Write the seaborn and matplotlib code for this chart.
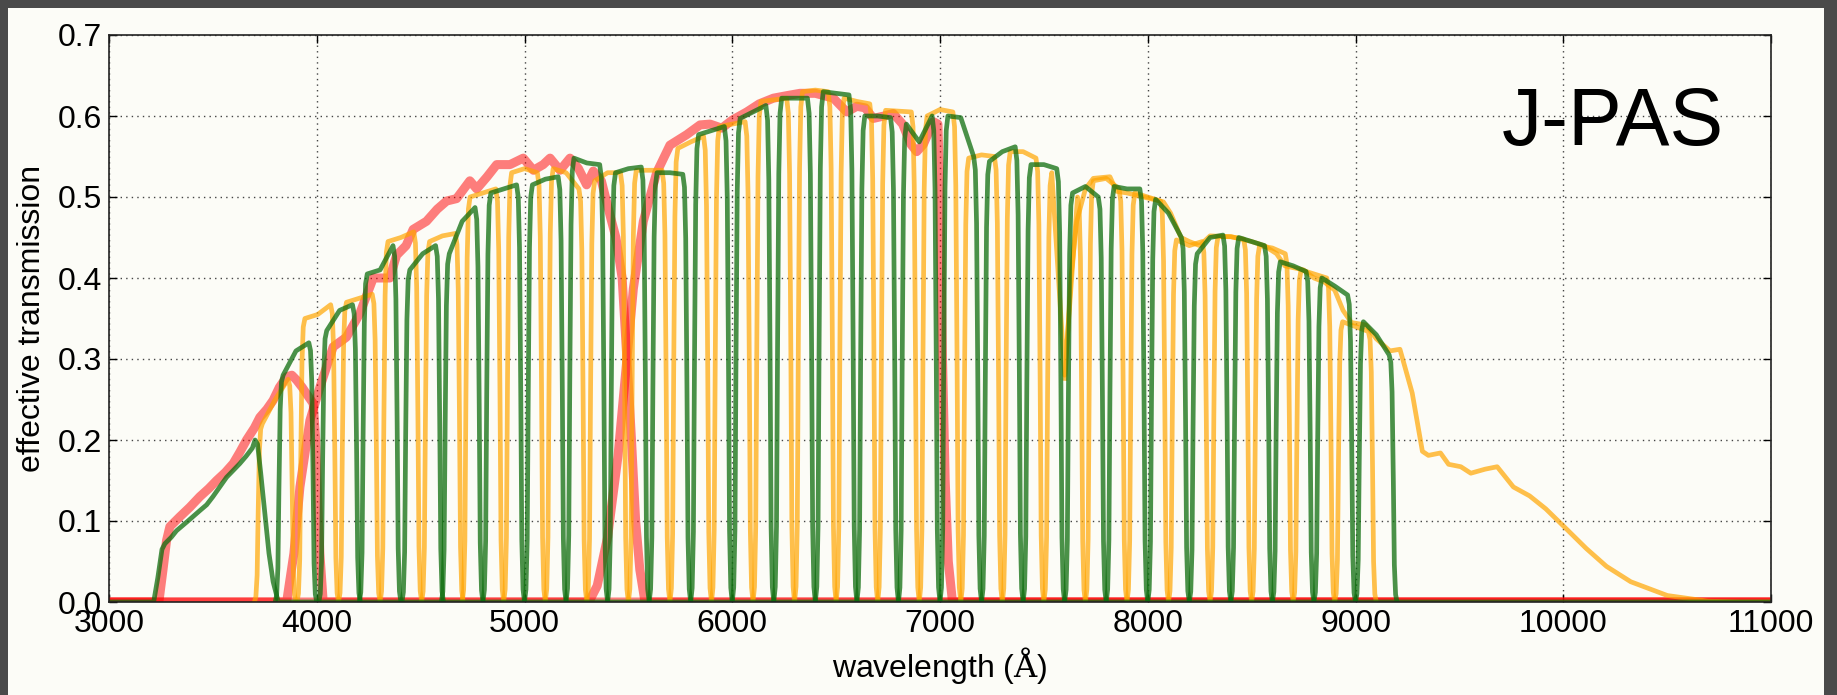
import pandas as pd
import matplotlib
matplotlib.use('Agg')
import matplotlib.pyplot as plt
from matplotlib.patches import Rectangle
import seaborn as sns

# --- narrow-band J-PAS filters (centre wavelength, top transmission left/centre/right) ---
nb_center = [3800, 3900, 4005, 4110, 4205, 4305, 4405, 4510, 4605, 4700,
             4800, 4900, 5000, 5100, 5200, 5300, 5400, 5500, 5600, 5700,
             5800, 5900, 6000, 6100, 6200, 6300, 6400, 6500, 6600, 6700,
             6800, 6900, 7000, 7100, 7200, 7300, 7400, 7500, 7600, 7700,
             7800, 7900, 8000, 8100, 8200, 8300, 8400, 8500, 8600, 8700,
             8800, 8900, 9000, 9100]
nb_top_left = [0.22, 0.28, 0.35, 0.335, 0.37, 0.405, 0.445, 0.41, 0.445, 0.43,
               0.50, 0.505, 0.53, 0.515, 0.535, 0.548, 0.52, 0.53, 0.533, 0.53,
               0.56, 0.577, 0.587, 0.597, 0.618, 0.622, 0.63, 0.63, 0.622, 0.60,
               0.607, 0.59, 0.60, 0.60, 0.548, 0.544, 0.556, 0.54, 0.53, 0.505,
               0.52, 0.513, 0.505, 0.497, 0.447, 0.43, 0.451, 0.45, 0.44, 0.42,
               0.41, 0.40, 0.346, 0.346]
nb_top_mid = [0.25, 0.31, 0.355, 0.36, 0.375, 0.41, 0.45, 0.43, 0.452, 0.47,
              0.505, 0.51, 0.535, 0.522, 0.53, 0.542, 0.53, 0.535, 0.533, 0.53,
              0.568, 0.582, 0.59, 0.605, 0.62, 0.622, 0.632, 0.628, 0.618, 0.60,
              0.606, 0.568, 0.608, 0.598, 0.552, 0.556, 0.556, 0.54, 0.28, 0.513,
              0.523, 0.51, 0.50, 0.48, 0.44, 0.45, 0.451, 0.445, 0.437, 0.415,
              0.405, 0.39, 0.34, 0.33]
nb_top_right = [0.275, 0.32, 0.367, 0.367, 0.38, 0.44, 0.457, 0.44, 0.455, 0.487,
                0.51, 0.515, 0.53, 0.525, 0.51, 0.54, 0.53, 0.537, 0.533, 0.528,
                0.575, 0.587, 0.593, 0.613, 0.622, 0.622, 0.63, 0.626, 0.615, 0.598,
                0.605, 0.60, 0.605, 0.55, 0.55, 0.562, 0.548, 0.535, 0.50, 0.50,
                0.51, 0.51, 0.495, 0.45, 0.445, 0.453, 0.448, 0.44, 0.43, 0.408,
                0.40, 0.379, 0.334, 0.305]
nb_colour = ['orange', 'green'] * 27

# filter edge profile: distance from centre (A) and fraction of top transmission
edge_offset = [100, 93, 87, 82, 76, 70, 62]
edge_frac = [0.0, 0.03, 0.15, 0.5, 0.85, 0.97, 1.0]

# --- broad filters ---
ujpas_wl = [3000, 3215, 3235, 3255, 3269, 3300, 3325, 3380, 3438, 3470, 3500, 3566, 3600,
            3630, 3660, 3690, 3703, 3715, 3730, 3750, 3770, 3790, 3815, 11000]
ujpas_t = [0, 0, 0.03, 0.065, 0.072, 0.08, 0.088, 0.10, 0.113, 0.12, 0.13, 0.154, 0.163,
           0.171, 0.18, 0.19, 0.20, 0.195, 0.16, 0.11, 0.06, 0.025, 0, 0]

ujava_wl = [3000, 3240, 3260, 3277, 3293, 3340, 3389, 3437, 3480, 3518, 3560, 3598, 3630,
            3662, 3700, 3726, 3760, 3790, 3820, 3855, 3880, 3903, 3930, 3951, 3983, 3995,
            4005, 4015, 4031, 11000]
ujava_t = [0, 0, 0.04, 0.076, 0.093, 0.105, 0.117, 0.13, 0.14, 0.15, 0.16, 0.171, 0.185,
           0.20, 0.215, 0.228, 0.238, 0.249, 0.265, 0.278, 0.28, 0.274, 0.265, 0.257, 0.245,
           0.20, 0.12, 0.06, 0, 0]

gband_wl = [3000, 3855, 3890, 3919, 3967, 4015, 4079, 4143, 4207, 4272, 4352, 4384, 4430,
            4464, 4528, 4580, 4625, 4673, 4737, 4770, 4820, 4866, 4930, 4994, 5043, 5090,
            5123, 5171, 5219, 5260, 5299, 5331, 5370, 5411, 5440, 5470, 5493, 5515, 5535,
            5555, 5580, 11000]
gband_t = [0, 0, 0.06, 0.142, 0.224, 0.265, 0.315, 0.327, 0.356, 0.40, 0.40, 0.428, 0.44,
           0.46, 0.47, 0.485, 0.495, 0.498, 0.52, 0.51, 0.525, 0.54, 0.54, 0.548, 0.533, 0.54,
           0.548, 0.533, 0.548, 0.535, 0.515, 0.532, 0.52, 0.478, 0.45, 0.40, 0.30, 0.20, 0.10,
           0.04, 0, 0]

rband_wl = [3000, 5310, 5350, 5400, 5450, 5493, 5524, 5572, 5636, 5700, 5781, 5845, 5893,
            5950, 6000, 6070, 6130, 6198, 6260, 6326, 6400, 6487, 6551, 6600, 6640, 6679,
            6730, 6775, 6820, 6860, 6888, 6920, 6968, 6990, 7000, 7012, 7025, 7040, 7060,
            11000]
rband_t = [0, 0, 0.02, 0.08, 0.18, 0.30, 0.387, 0.47, 0.53, 0.564, 0.577, 0.589, 0.59,
           0.585, 0.595, 0.605, 0.615, 0.622, 0.625, 0.628, 0.628, 0.622, 0.605, 0.612, 0.61,
           0.597, 0.60, 0.603, 0.59, 0.565, 0.556, 0.565, 0.593, 0.59, 0.50, 0.30, 0.15, 0.05,
           0, 0]

red_wl = [7602, 7630, 7658, 7700, 7738, 7818, 7850, 7900, 7979, 8075, 8110, 8160, 8200,
          8250, 8300, 8400, 8500, 8560, 8620, 8660, 8750, 8800, 8850, 8900, 8940, 8980,
          9050, 9100, 9166, 9214, 9273, 9322, 9351, 9409, 9448, 9507, 9555, 9624, 9682,
          9760, 9838, 9916, 10004, 10111, 10208, 10325, 10501, 10696, 10850, 11000]
red_t = [0.276, 0.40, 0.47, 0.51, 0.523, 0.525, 0.507, 0.505, 0.50, 0.494, 0.48, 0.45,
         0.445, 0.44, 0.452, 0.451, 0.445, 0.44, 0.43, 0.415, 0.41, 0.40, 0.395, 0.385,
         0.36, 0.345, 0.342, 0.325, 0.31, 0.312, 0.258, 0.186, 0.181, 0.184, 0.17, 0.167,
         0.159, 0.164, 0.167, 0.142, 0.131, 0.115, 0.093, 0.066, 0.044, 0.025, 0.008, 0.001,
         0, 0]

# build narrow-band profiles
rows = []
for i, c in enumerate(nb_center):
    xs = [c - o for o in edge_offset] + [c] + [c + o for o in edge_offset[::-1]]
    ys = ([f * nb_top_left[i] for f in edge_frac] + [nb_top_mid[i]]
          + [f * nb_top_right[i] for f in edge_frac[::-1]])
    for x, y in zip(xs, ys):
        rows.append({'filter': i, 'colour': nb_colour[i], 'wl': x, 'T': y})
nb = pd.DataFrame(rows)

plt.rcParams['font.family'] = ['Liberation Sans', 'DejaVu Sans']
plt.rcParams['mathtext.fontset'] = 'dejavuserif'

W, H = 1837, 695
bg = '#fcfcf7'
fig = plt.figure(figsize=(W / 100, H / 100), dpi=100, facecolor='#4a4a4a')
fig.add_artist(Rectangle((8 / W, 0), (1824 - 8) / W, (H - 8) / H,
                         transform=fig.transFigure, facecolor=bg, edgecolor='none', zorder=-10))
ax = fig.add_axes([109 / W, 93 / H, (1771 - 109) / W, (602 - 35) / H], facecolor=bg)

red_kw = dict(color='red', alpha=0.5, lw=6.5, estimator=None, sort=False, ax=ax)
sns.lineplot(x=ujava_wl, y=ujava_t, **red_kw)
sns.lineplot(x=gband_wl, y=gband_t, **red_kw)
sns.lineplot(x=rband_wl, y=rband_t, **red_kw)

sns.lineplot(data=nb[nb['colour'] == 'orange'], x='wl', y='T', units='filter',
             estimator=None, sort=False, color='orange', alpha=0.7, lw=3.4, ax=ax)
sns.lineplot(x=red_wl, y=red_t, color='orange', alpha=0.7, lw=3.4, estimator=None,
             sort=False, ax=ax)
sns.lineplot(data=nb[nb['colour'] == 'green'], x='wl', y='T', units='filter',
             estimator=None, sort=False, color='#0e6d0e', alpha=0.75, lw=3.4, ax=ax)
sns.lineplot(x=ujpas_wl, y=ujpas_t, color='#0e6d0e', alpha=0.75, lw=3.4, estimator=None,
             sort=False, ax=ax)

ax.set_xlim(3000, 11000)
ax.set_ylim(0, 0.7)
ax.set_xticks(range(3000, 11001, 1000))
ax.set_yticks([i / 10 for i in range(8)])
ax.set_yticklabels([f'{i / 10:.1f}' for i in range(8)])
ax.grid(True, color='#444444', linestyle=(0, (1, 3)), linewidth=1)
ax.set_axisbelow(True)
for s in ax.spines.values():
    s.set_color('#222222')
    s.set_linewidth(1.2)
ax.tick_params(direction='in', length=6, width=1, top=True, right=True,
               labelsize=23, pad=5)
ax.set_xlabel('wavelength ($\\mathrm{\\AA}$)', fontsize=23, labelpad=4)
ax.set_ylabel('effective transmission', fontsize=23, labelpad=8)
ax.text(0.905, 0.806, 'J-PAS', transform=ax.transAxes, fontsize=58,
        ha='center', va='baseline')

fig.savefig('out.png', dpi=100, facecolor=fig.get_facecolor())
